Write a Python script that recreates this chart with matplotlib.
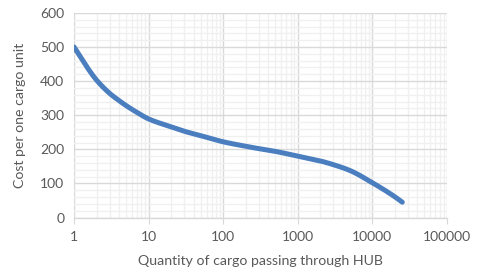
import matplotlib
matplotlib.use("Agg")
import matplotlib.pyplot as plt
import numpy as np
from matplotlib.ticker import LogLocator, MultipleLocator, FixedLocator

plt.rcParams['font.family'] = ['Lato', 'DejaVu Sans']

quantity = [1, 1.5, 2, 3, 4, 5, 7, 10, 20, 30, 50, 100, 200, 300, 500, 1000,
            2000, 3000, 5000, 10000, 20000, 25200]
cost = [500, 440, 403, 364, 343, 328, 308, 289, 266, 253, 240, 222, 209, 202, 194, 180,
        166, 155, 138, 102, 61, 45]
x_ticks = [1, 10, 100, 1000, 10000, 100000]
x_tick_labels = ["1", "10", "100", "1000", "10000", "100000"]
y_ticks = [0, 100, 200, 300, 400, 500, 600]


def smooth_path(xs, ys, n=30):
    """Shape-preserving cubic (PCHIP) rendering of the read points in log-x space."""
    x = np.log10(np.asarray(xs, float))
    y = np.asarray(ys, float)
    h = np.diff(x)
    d = np.diff(y) / h
    m = np.zeros_like(y)
    for k in range(1, len(y) - 1):
        if d[k - 1] * d[k] <= 0:
            m[k] = 0
        else:
            w1 = 2 * h[k] + h[k - 1]
            w2 = h[k] + 2 * h[k - 1]
            m[k] = (w1 + w2) / (w1 / d[k - 1] + w2 / d[k])
    m[0] = d[0]
    m[-1] = d[-1]
    ox, oy = [], []
    t = np.linspace(0, 1, n, endpoint=False)
    for k in range(len(h)):
        h00 = 2 * t ** 3 - 3 * t ** 2 + 1
        h10 = t ** 3 - 2 * t ** 2 + t
        h01 = -2 * t ** 3 + 3 * t ** 2
        h11 = t ** 3 - t ** 2
        ox.extend(x[k] + t * h[k])
        oy.extend(h00 * y[k] + h10 * h[k] * m[k] + h01 * y[k + 1] + h11 * h[k] * m[k + 1])
    ox.append(x[-1])
    oy.append(y[-1])
    return 10 ** np.array(ox), np.array(oy)


fig = plt.figure(figsize=(4.78, 2.74), dpi=100)
ax = fig.add_axes([0.155, 0.206, 0.780, 0.747])

ax.set_xscale('log')
ax.set_xlim(1, 100000)
ax.set_ylim(0, 600)

ax.xaxis.set_major_locator(FixedLocator(x_ticks))
ax.xaxis.set_minor_locator(LogLocator(base=10, subs=range(2, 10), numticks=20))
ax.set_xticks(x_ticks)
ax.set_xticklabels(x_tick_labels)
ax.set_yticks(y_ticks)
ax.yaxis.set_minor_locator(MultipleLocator(20))

ax.grid(which='major', color='#d9d9d9', linewidth=1.0)
ax.grid(which='minor', color='#f0f0f0', linewidth=1.0)
ax.set_axisbelow(True)

for s in ['top', 'right', 'left']:
    ax.spines[s].set_visible(False)
ax.spines['bottom'].set_color('#d9d9d9')
ax.spines['bottom'].set_linewidth(1.0)

ax.tick_params(axis='x', which='major', length=4, color='#d9d9d9', labelsize=10, labelcolor='#595959', pad=6)
ax.tick_params(axis='x', which='minor', length=0, labelbottom=False)
ax.tick_params(axis='y', which='both', length=0, labelsize=10, labelcolor='#595959', pad=7)

sx, sy = smooth_path(quantity, cost)
ax.plot(sx, sy, color='#4a7ebf', linewidth=3.6, solid_capstyle='round', zorder=3)

ax.set_xlabel('Quantity of cargo passing through HUB', fontsize=10.2, color='#595959', labelpad=8)
ax.set_ylabel('Cost per one cargo unit', fontsize=10.2, color='#595959', labelpad=10)

fig.savefig('out.png', dpi=100)
